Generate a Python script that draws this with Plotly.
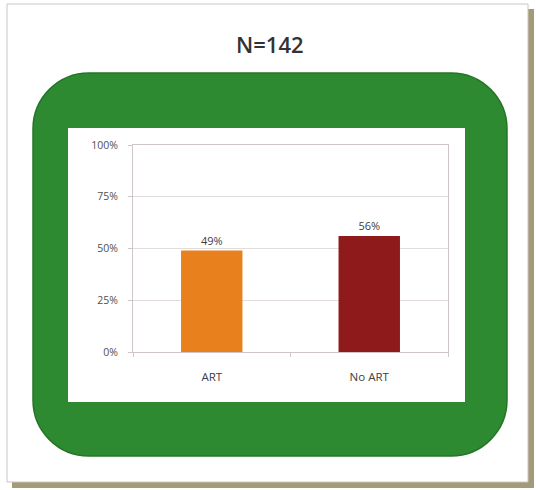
import plotly.graph_objects as go

# Data
categories = ["ART", "No ART"]
values = [49, 56]
bar_colors = ["#E8801E", "#8E1A1B"]
y_ticks = [0, 25, 50, 75, 100]
y_tick_labels = ["0%", "25%", "50%", "75%", "100%"]
title_text = "N=142"

W, H = 536, 490
# plot area in pixels
PL, PR, PT, PB = 133, 448, 145, 352


def px(x, y):
    """Convert page pixel coordinates to paper coordinates."""
    return (x - PL) / (PR - PL), (PB - y) / (PB - PT)


def rect(x0, y0, x1, y1, **kw):
    a = px(x0, y1)
    b = px(x1, y0)
    return dict(type="rect", xref="paper", yref="paper",
                x0=a[0], y0=a[1], x1=b[0], y1=b[1], layer="below", **kw)


def rounded(x0, y0, x1, y1, r, **kw):
    k = 0.5523 * r

    def P(x, y):
        p = px(x, y)
        return f"{p[0]:.5f},{p[1]:.5f}"

    d = f"M {P(x0 + r, y0)} L {P(x1 - r, y0)} "
    d += f"C {P(x1 - r + k, y0)} {P(x1, y0 + r - k)} {P(x1, y0 + r)} "
    d += f"L {P(x1, y1 - r)} "
    d += f"C {P(x1, y1 - r + k)} {P(x1 - r + k, y1)} {P(x1 - r, y1)} "
    d += f"L {P(x0 + r, y1)} "
    d += f"C {P(x0 + r - k, y1)} {P(x0, y1 - r + k)} {P(x0, y1 - r)} "
    d += f"L {P(x0, y0 + r)} "
    d += f"C {P(x0, y0 + r - k)} {P(x0 + r - k, y0)} {P(x0 + r, y0)} Z"
    return dict(type="path", xref="paper", yref="paper", path=d, layer="below", **kw)


shapes = [
    # card drop shadow
    rect(12, 9, 534, 488, fillcolor="#A39A7A", line=dict(width=0)),
    # white card
    rect(7, 4, 528, 482, fillcolor="white", line=dict(color="#C9C6C0", width=1)),
    # green rounded frame
    rounded(33, 73, 507, 456, 56, fillcolor="#2E8A30", line=dict(color="#247526", width=1.5)),
    # inner white panel
    rect(68, 128, 465, 402, fillcolor="white", line=dict(width=0)),
]

fig = go.Figure(
    go.Bar(
        x=categories,
        y=values,
        width=0.39,
        marker=dict(color=bar_colors, line=dict(width=0)),
        text=[f"{v}%" for v in values],
        textposition="outside",
        textfont=dict(family="Open Sans", size=11, color="#404040"),
        cliponaxis=False,
        hoverinfo="skip",
    )
)

fig.update_layout(
    width=W,
    height=H,
    margin=dict(l=PL, r=W - PR, t=PT, b=H - PB, pad=0),
    paper_bgcolor="white",
    plot_bgcolor="white",
    showlegend=False,
    shapes=shapes,
    annotations=[
        dict(text=title_text, xref="paper", yref="paper",
             x=px(270, 0)[0], y=px(0, 44)[1], showarrow=False,
             xanchor="center", yanchor="middle",
             font=dict(family="Open Sans", size=22, color="#333333", weight=600)),
    ],
    font=dict(family="Open Sans", size=11, color="#505050"),
)

fig.update_yaxes(
    range=[0, 100],
    tickmode="array",
    tickvals=y_ticks,
    ticktext=y_tick_labels,
    showgrid=True,
    gridcolor="#E2DCDC",
    gridwidth=1,
    showline=True,
    mirror=True,
    linecolor="#CFC6C6",
    linewidth=1,
    ticks="outside",
    ticklen=4,
    tickcolor="#CFC6C6",
    ticklabelstandoff=8,
    zeroline=False,
    tickfont=dict(size=10.5, color="#505050"),
    fixedrange=True,
)

fig.update_xaxes(
    showline=True,
    mirror=True,
    linecolor="#CFC6C6",
    linewidth=1,
    ticks="outside",
    tickson="boundaries",
    ticklen=4,
    tickcolor="#CFC6C6",
    ticklabelstandoff=14,
    tickfont=dict(size=11.5, color="#404040"),
    fixedrange=True,
)

fig.write_html("out.html", config=dict(displayModeBar=False))
